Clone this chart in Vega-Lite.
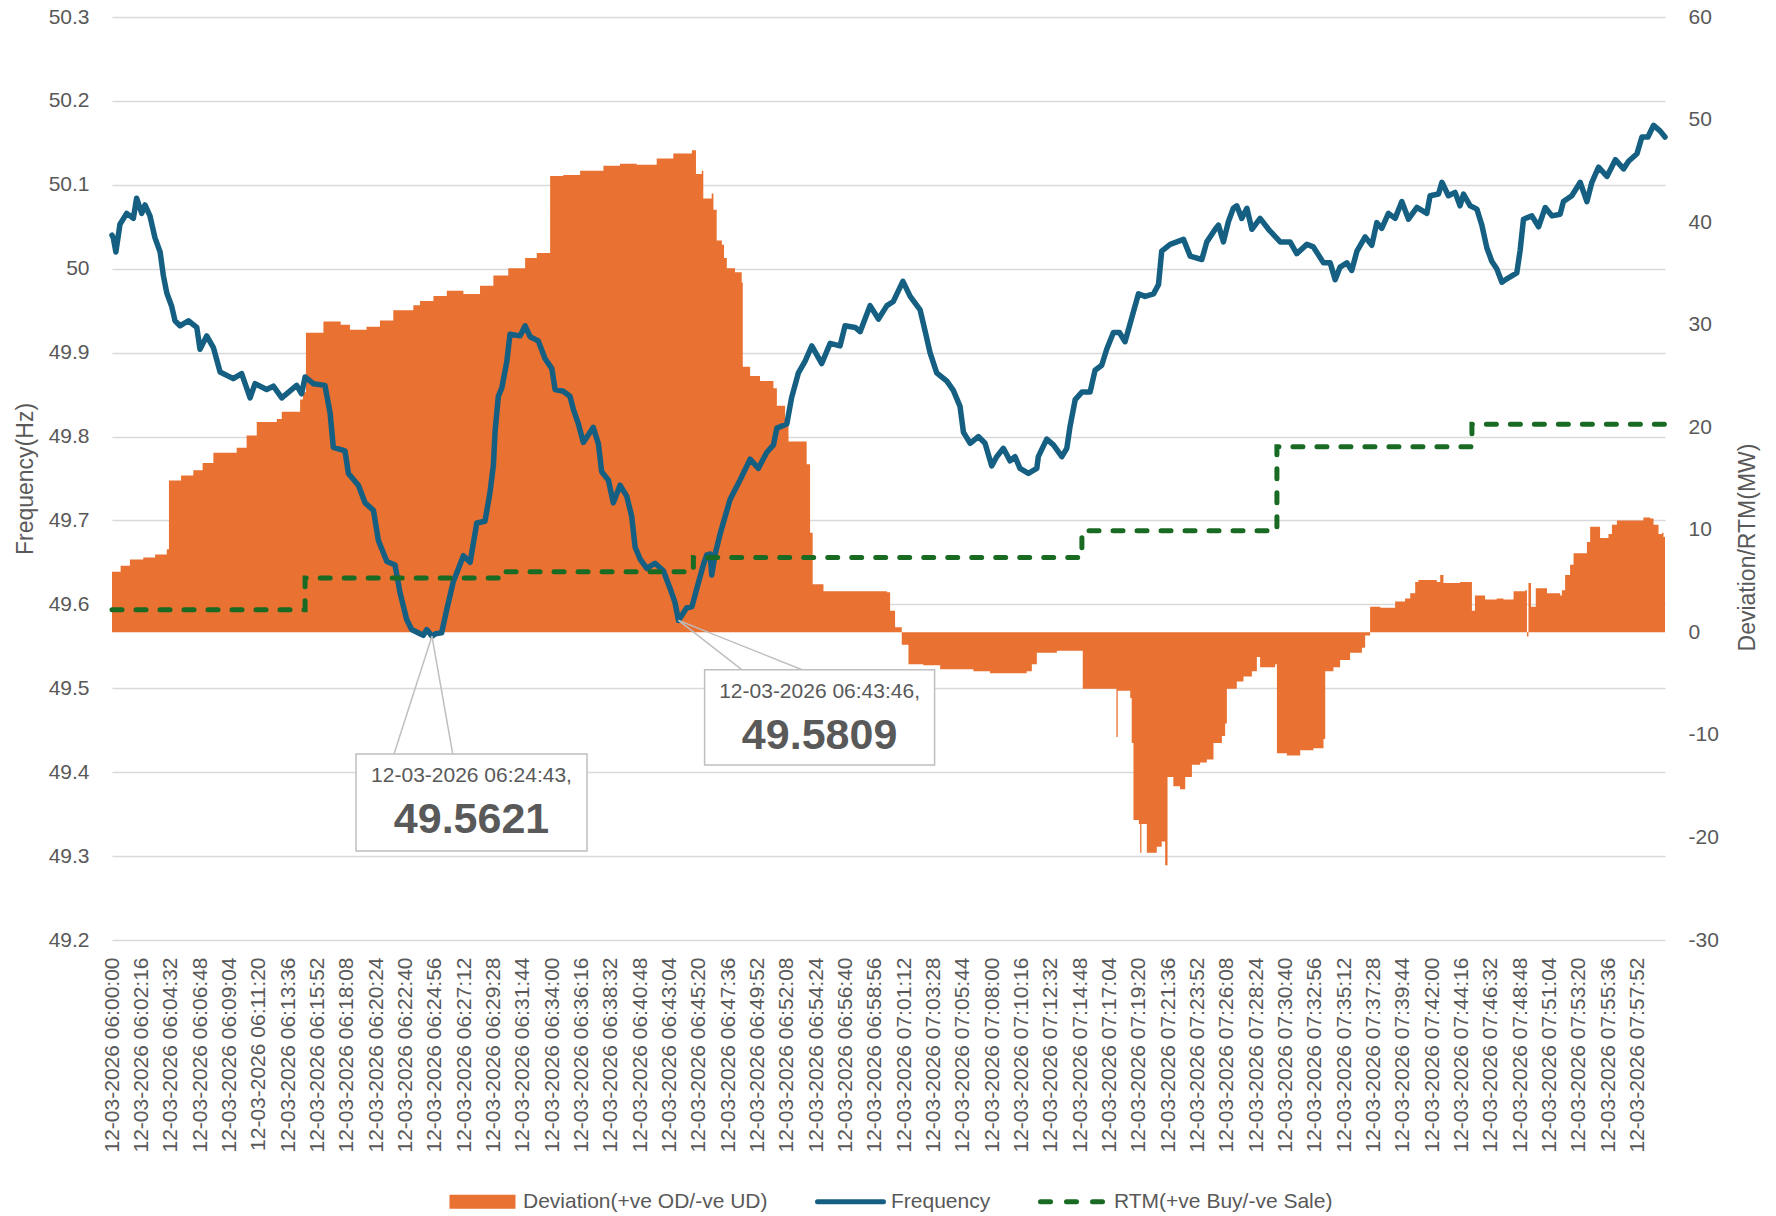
{
"$schema": "https://vega.github.io/schema/vega-lite/v6.json",
"width": 1553, "height": 923,
"autosize": {"type": "none"},
"padding": {"left": 112, "top": 17, "right": 111, "bottom": 276},
"background": "white",
"config": {"font": "Liberation Sans", "view": {"stroke": null}, "text": {"font": "Liberation Sans"}},
"encoding": {
 "x": {"field": "t", "type": "temporal",
  "scale": {"type": "utc", "domain": [1773295200000, 1773302399000]},
  "axis": {"values": [1773295200000,1773295336000,1773295472000,1773295608000,1773295744000,1773295880000,1773296016000,1773296152000,1773296288000,1773296424000,1773296560000,1773296696000,1773296832000,1773296968000,1773297104000,1773297240000,1773297376000,1773297512000,1773297648000,1773297784000,1773297920000,1773298056000,1773298192000,1773298328000,1773298464000,1773298600000,1773298736000,1773298872000,1773299008000,1773299144000,1773299280000,1773299416000,1773299552000,1773299688000,1773299824000,1773299960000,1773300096000,1773300232000,1773300368000,1773300504000,1773300640000,1773300776000,1773300912000,1773301048000,1773301184000,1773301320000,1773301456000,1773301592000,1773301728000,1773301864000,1773302000000,1773302136000,1773302272000],
   "labelExpr": "utcFormat(datum.value, '%d-%m-%Y %H:%M:%S')",
   "labelAngle": -90, "labelFontSize": 21, "labelColor": "#595959", "ticks": false, "tickSize": 0, "labelLimit": 0,
   "domain": false, "grid": false, "labelPadding": 17, "title": null, "labelOverlap": false, "labelFlush": false, "labelBound": false}}
},
"layer": [
 {"data": {"format": {"parse": {"t": "utc:'%Y-%m-%d %H:%M:%S'"}}, "values": [
 {"t":"2026-03-12 06:00:00","d":5.9},{"t":"2026-03-12 06:00:40","d":6.5},{"t":"2026-03-12 06:01:23","d":7.1},{"t":"2026-03-12 06:02:25","d":7.3},{"t":"2026-03-12 06:03:20","d":7.6},{"t":"2026-03-12 06:04:14","d":8.1},{"t":"2026-03-12 06:04:24","d":14.8},{"t":"2026-03-12 06:05:20","d":15.3},{"t":"2026-03-12 06:06:17","d":15.8},{"t":"2026-03-12 06:07:00","d":16.5},{"t":"2026-03-12 06:07:50","d":17.5},{"t":"2026-03-12 06:09:38","d":18.0},{"t":"2026-03-12 06:10:24","d":19.2},{"t":"2026-03-12 06:11:11","d":20.5},{"t":"2026-03-12 06:12:44","d":20.8},{"t":"2026-03-12 06:13:07","d":21.5},{"t":"2026-03-12 06:14:32","d":22.7},{"t":"2026-03-12 06:14:45","d":23.4},{"t":"2026-03-12 06:14:59","d":29.2},{"t":"2026-03-12 06:16:20","d":30.3},{"t":"2026-03-12 06:17:40","d":30.0},{"t":"2026-03-12 06:18:23","d":29.5},{"t":"2026-03-12 06:19:40","d":29.8},{"t":"2026-03-12 06:20:42","d":30.4},{"t":"2026-03-12 06:21:44","d":31.4},{"t":"2026-03-12 06:23:17","d":31.9},{"t":"2026-03-12 06:23:48","d":32.3},{"t":"2026-03-12 06:24:50","d":32.8},{"t":"2026-03-12 06:25:52","d":33.3},{"t":"2026-03-12 06:27:09","d":33.0},{"t":"2026-03-12 06:28:26","d":33.8},{"t":"2026-03-12 06:29:28","d":34.8},{"t":"2026-03-12 06:30:37","d":35.5},{"t":"2026-03-12 06:31:55","d":36.5},{"t":"2026-03-12 06:32:49","d":37.0},{"t":"2026-03-12 06:33:51","d":44.5},{"t":"2026-03-12 06:34:52","d":44.6},{"t":"2026-03-12 06:36:10","d":45.0},{"t":"2026-03-12 06:37:58","d":45.5},{"t":"2026-03-12 06:39:15","d":45.7},{"t":"2026-03-12 06:40:32","d":45.6},{"t":"2026-03-12 06:42:05","d":46.2},{"t":"2026-03-12 06:43:22","d":46.7},{"t":"2026-03-12 06:44:48","d":47.0},{"t":"2026-03-12 06:45:07","d":44.7},{"t":"2026-03-12 06:45:34","d":45.0},{"t":"2026-03-12 06:45:41","d":42.3},{"t":"2026-03-12 06:46:20","d":42.8},{"t":"2026-03-12 06:46:28","d":41.2},{"t":"2026-03-12 06:46:43","d":38.2},{"t":"2026-03-12 06:47:07","d":37.8},{"t":"2026-03-12 06:47:17","d":36.5},{"t":"2026-03-12 06:47:30","d":35.5},{"t":"2026-03-12 06:48:08","d":35.1},{"t":"2026-03-12 06:48:39","d":34.1},{"t":"2026-03-12 06:48:44","d":25.9},{"t":"2026-03-12 06:49:18","d":25.0},{"t":"2026-03-12 06:50:04","d":24.5},{"t":"2026-03-12 06:51:06","d":23.8},{"t":"2026-03-12 06:51:22","d":22.1},{"t":"2026-03-12 06:52:00","d":20.8},{"t":"2026-03-12 06:52:16","d":18.6},{"t":"2026-03-12 06:53:40","d":16.4},{"t":"2026-03-12 06:53:56","d":9.7},{"t":"2026-03-12 06:54:08","d":4.7},{"t":"2026-03-12 06:54:58","d":4.0},{"t":"2026-03-12 06:59:52","d":3.9},{"t":"2026-03-12 07:00:07","d":2.1},{"t":"2026-03-12 07:00:30","d":0.5},{"t":"2026-03-12 07:01:01","d":-1.2},{"t":"2026-03-12 07:01:32","d":-3.1},{"t":"2026-03-12 07:02:41","d":-3.2},{"t":"2026-03-12 07:03:59","d":-3.6},{"t":"2026-03-12 07:06:33","d":-3.8},{"t":"2026-03-12 07:07:50","d":-4.0},{"t":"2026-03-12 07:10:40","d":-3.8},{"t":"2026-03-12 07:11:04","d":-3.1},{"t":"2026-03-12 07:11:27","d":-2.0},{"t":"2026-03-12 07:13:00","d":-1.8},{"t":"2026-03-12 07:15:00","d":-5.5},{"t":"2026-03-12 07:17:36","d":-10.2},{"t":"2026-03-12 07:17:42","d":-5.7},{"t":"2026-03-12 07:18:40","d":-6.4},{"t":"2026-03-12 07:18:47","d":-10.8},{"t":"2026-03-12 07:18:55","d":-18.3},{"t":"2026-03-12 07:19:20","d":-18.7},{"t":"2026-03-12 07:19:26","d":-21.5},{"t":"2026-03-12 07:19:32","d":-18.7},{"t":"2026-03-12 07:19:57","d":-21.5},{"t":"2026-03-12 07:20:43","d":-20.9},{"t":"2026-03-12 07:21:06","d":-20.4},{"t":"2026-03-12 07:21:22","d":-22.7},{"t":"2026-03-12 07:21:33","d":-14.1},{"t":"2026-03-12 07:22:00","d":-15.0},{"t":"2026-03-12 07:22:31","d":-15.3},{"t":"2026-03-12 07:22:55","d":-14.1},{"t":"2026-03-12 07:23:26","d":-12.9},{"t":"2026-03-12 07:24:04","d":-12.7},{"t":"2026-03-12 07:24:35","d":-12.4},{"t":"2026-03-12 07:25:06","d":-10.8},{"t":"2026-03-12 07:25:45","d":-10.1},{"t":"2026-03-12 07:26:00","d":-8.9},{"t":"2026-03-12 07:26:08","d":-5.5},{"t":"2026-03-12 07:26:54","d":-4.8},{"t":"2026-03-12 07:27:25","d":-4.3},{"t":"2026-03-12 07:28:04","d":-3.8},{"t":"2026-03-12 07:28:27","d":-2.4},{"t":"2026-03-12 07:28:42","d":-3.4},{"t":"2026-03-12 07:29:52","d":-3.1},{"t":"2026-03-12 07:30:00","d":-11.8},{"t":"2026-03-12 07:30:46","d":-12.0},{"t":"2026-03-12 07:31:48","d":-11.5},{"t":"2026-03-12 07:32:49","d":-11.3},{"t":"2026-03-12 07:33:36","d":-10.4},{"t":"2026-03-12 07:33:44","d":-3.8},{"t":"2026-03-12 07:34:22","d":-3.4},{"t":"2026-03-12 07:34:53","d":-2.7},{"t":"2026-03-12 07:35:39","d":-2.0},{"t":"2026-03-12 07:36:34","d":-1.5},{"t":"2026-03-12 07:36:49","d":-0.3},{"t":"2026-03-12 07:37:12","d":2.5},{"t":"2026-03-12 07:37:59","d":2.4},{"t":"2026-03-12 07:39:08","d":3.0},{"t":"2026-03-12 07:39:54","d":3.3},{"t":"2026-03-12 07:40:18","d":3.8},{"t":"2026-03-12 07:40:41","d":4.9},{"t":"2026-03-12 07:40:56","d":5.1},{"t":"2026-03-12 07:42:21","d":4.9},{"t":"2026-03-12 07:42:37","d":5.6},{"t":"2026-03-12 07:42:52","d":4.8},{"t":"2026-03-12 07:44:09","d":4.9},{"t":"2026-03-12 07:45:04","d":2.1},{"t":"2026-03-12 07:45:18","d":3.6},{"t":"2026-03-12 07:46:05","d":3.2},{"t":"2026-03-12 07:46:59","d":3.3},{"t":"2026-03-12 07:47:30","d":3.2},{"t":"2026-03-12 07:48:17","d":4.0},{"t":"2026-03-12 07:49:11","d":4.1},{"t":"2026-03-12 07:49:19","d":-0.4},{"t":"2026-03-12 07:49:26","d":4.8},{"t":"2026-03-12 07:49:38","d":2.5},{"t":"2026-03-12 07:50:00","d":4.3},{"t":"2026-03-12 07:50:52","d":3.8},{"t":"2026-03-12 07:51:53","d":3.6},{"t":"2026-03-12 07:52:01","d":4.1},{"t":"2026-03-12 07:52:16","d":5.6},{"t":"2026-03-12 07:52:39","d":6.6},{"t":"2026-03-12 07:52:55","d":7.7},{"t":"2026-03-12 07:53:57","d":8.8},{"t":"2026-03-12 07:54:12","d":10.3},{"t":"2026-03-12 07:54:58","d":9.2},{"t":"2026-03-12 07:55:37","d":9.6},{"t":"2026-03-12 07:55:53","d":10.5},{"t":"2026-03-12 07:56:16","d":10.9},{"t":"2026-03-12 07:58:19","d":11.2},{"t":"2026-03-12 07:58:50","d":11.1},{"t":"2026-03-12 07:59:06","d":10.5},{"t":"2026-03-12 07:59:29","d":9.6},{"t":"2026-03-12 07:59:45","d":9.7},{"t":"2026-03-12 07:59:52","d":9.3},{"t":"2026-03-12 07:59:59","d":9.3}
 ]},
 "mark": {"type": "area", "interpolate": "step-after"},
 "encoding": {
  "y": {"field": "d", "type": "quantitative", "scale": {"domain": [-30, 60], "nice": false, "zero": false},
   "axis": {"orient": "right", "values": [-30,-20,-10,0,10,20,30,40,50,60], "labelExpr": "datum.value < 0 ? '-' + abs(datum.value) : '' + datum.value", "grid": false, "domain": false, "ticks": false, "tickSize": 0, "labelPadding": 23, "labelFontSize": 21, "labelColor": "#595959", "title": "Deviation/RTM(MW)", "titleFontSize": 23, "titleFontWeight": "normal", "titleColor": "#595959", "titleAngle": 270, "titleX": 82, "titleY": 530, "titleAlign": "center", "titleBaseline": "middle"}},
  "y2": {"datum": 0},
  "color": {"datum": "Deviation(+ve OD/-ve UD)",
   "scale": {"domain": ["Deviation(+ve OD/-ve UD)", "Frequency", "RTM(+ve Buy/-ve Sale)"], "range": ["#E97132", "#156082", "#196B24"]},
   "legend": {"orient": "none", "legendX": 360, "legendY": 1174, "direction": "horizontal", "title": null, "padding": 0,
    "labelFontSize": 21, "labelColor": "#595959", "labelOffset": 30, "labelLimit": 0, "columnPadding": 39, "symbolSize": 400, "symbolType": "M-3.3,0L3.3,0",
    "encode": {"symbols": {"update": {
     "shape": {"signal": "datum.value === 'Deviation(+ve OD/-ve UD)' ? 'M-3.3,-0.7L3.3,-0.7L3.3,0.7L-3.3,0.7Z' : 'M-3.3,0L3.3,0'"},
     "fill": {"signal": "datum.value === 'Deviation(+ve OD/-ve UD)' ? '#E97132' : 'transparent'"},
     "stroke": {"signal": "datum.value === 'Frequency' ? '#156082' : (datum.value === 'RTM(+ve Buy/-ve Sale)' ? '#196B24' : 'transparent')"},
     "strokeWidth": {"signal": "datum.value === 'Deviation(+ve OD/-ve UD)' ? 0 : 5"},
     "strokeDash": {"signal": "datum.value === 'RTM(+ve Buy/-ve Sale)' ? [10, 16] : [1, 0]"},
     "strokeCap": {"value": "round"},
     "size": {"value": 400},
     "opacity": {"value": 1}
    }}}}}
 }},
 {"data": {"format": {"parse": {"t": "utc:'%Y-%m-%d %H:%M:%S'"}}, "values": [
 {"t":"2026-03-12 06:00:00","f":50.040},{"t":"2026-03-12 06:00:06","f":50.037},{"t":"2026-03-12 06:00:18","f":50.020},{"t":"2026-03-12 06:00:37","f":50.053},{"t":"2026-03-12 06:01:08","f":50.066},{"t":"2026-03-12 06:01:39","f":50.060},{"t":"2026-03-12 06:01:54","f":50.084},{"t":"2026-03-12 06:02:18","f":50.066},{"t":"2026-03-12 06:02:33","f":50.076},{"t":"2026-03-12 06:02:56","f":50.063},{"t":"2026-03-12 06:03:19","f":50.037},{"t":"2026-03-12 06:03:43","f":50.020},{"t":"2026-03-12 06:03:58","f":49.992},{"t":"2026-03-12 06:04:14","f":49.971},{"t":"2026-03-12 06:04:37","f":49.955},{"t":"2026-03-12 06:04:52","f":49.938},{"t":"2026-03-12 06:05:15","f":49.932},{"t":"2026-03-12 06:05:54","f":49.938},{"t":"2026-03-12 06:06:33","f":49.930},{"t":"2026-03-12 06:06:48","f":49.904},{"t":"2026-03-12 06:07:19","f":49.920},{"t":"2026-03-12 06:07:50","f":49.906},{"t":"2026-03-12 06:08:21","f":49.877},{"t":"2026-03-12 06:09:22","f":49.869},{"t":"2026-03-12 06:10:01","f":49.875},{"t":"2026-03-12 06:10:40","f":49.846},{"t":"2026-03-12 06:11:03","f":49.863},{"t":"2026-03-12 06:11:57","f":49.856},{"t":"2026-03-12 06:12:28","f":49.860},{"t":"2026-03-12 06:13:07","f":49.846},{"t":"2026-03-12 06:14:16","f":49.861},{"t":"2026-03-12 06:14:39","f":49.851},{"t":"2026-03-12 06:14:55","f":49.871},{"t":"2026-03-12 06:15:33","f":49.863},{"t":"2026-03-12 06:16:27","f":49.861},{"t":"2026-03-12 06:16:51","f":49.828},{"t":"2026-03-12 06:17:06","f":49.787},{"t":"2026-03-12 06:18:00","f":49.783},{"t":"2026-03-12 06:18:16","f":49.756},{"t":"2026-03-12 06:19:02","f":49.742},{"t":"2026-03-12 06:19:33","f":49.721},{"t":"2026-03-12 06:20:12","f":49.712},{"t":"2026-03-12 06:20:35","f":49.676},{"t":"2026-03-12 06:21:14","f":49.651},{"t":"2026-03-12 06:21:52","f":49.647},{"t":"2026-03-12 06:22:15","f":49.614},{"t":"2026-03-12 06:22:46","f":49.582},{"t":"2026-03-12 06:23:09","f":49.570},{"t":"2026-03-12 06:23:48","f":49.565},{"t":"2026-03-12 06:24:03","f":49.563},{"t":"2026-03-12 06:24:19","f":49.570},{"t":"2026-03-12 06:24:43","f":49.5621},{"t":"2026-03-12 06:25:00","f":49.565},{"t":"2026-03-12 06:25:28","f":49.566},{"t":"2026-03-12 06:25:52","f":49.594},{"t":"2026-03-12 06:26:22","f":49.627},{"t":"2026-03-12 06:27:09","f":49.658},{"t":"2026-03-12 06:27:40","f":49.650},{"t":"2026-03-12 06:28:11","f":49.697},{"t":"2026-03-12 06:28:49","f":49.699},{"t":"2026-03-12 06:29:12","f":49.733},{"t":"2026-03-12 06:29:28","f":49.766},{"t":"2026-03-12 06:29:36","f":49.807},{"t":"2026-03-12 06:29:51","f":49.848},{"t":"2026-03-12 06:30:07","f":49.858},{"t":"2026-03-12 06:30:30","f":49.889},{"t":"2026-03-12 06:30:45","f":49.922},{"t":"2026-03-12 06:31:32","f":49.920},{"t":"2026-03-12 06:31:55","f":49.932},{"t":"2026-03-12 06:32:18","f":49.919},{"t":"2026-03-12 06:32:56","f":49.914},{"t":"2026-03-12 06:33:27","f":49.893},{"t":"2026-03-12 06:33:59","f":49.881},{"t":"2026-03-12 06:34:14","f":49.856},{"t":"2026-03-12 06:34:52","f":49.854},{"t":"2026-03-12 06:35:23","f":49.848},{"t":"2026-03-12 06:35:39","f":49.832},{"t":"2026-03-12 06:36:02","f":49.815},{"t":"2026-03-12 06:36:25","f":49.793},{"t":"2026-03-12 06:37:11","f":49.811},{"t":"2026-03-12 06:37:35","f":49.791},{"t":"2026-03-12 06:37:50","f":49.758},{"t":"2026-03-12 06:38:21","f":49.748},{"t":"2026-03-12 06:38:44","f":49.721},{"t":"2026-03-12 06:39:15","f":49.742},{"t":"2026-03-12 06:39:46","f":49.729},{"t":"2026-03-12 06:40:09","f":49.705},{"t":"2026-03-12 06:40:25","f":49.668},{"t":"2026-03-12 06:40:48","f":49.654},{"t":"2026-03-12 06:41:19","f":49.643},{"t":"2026-03-12 06:41:57","f":49.649},{"t":"2026-03-12 06:42:36","f":49.640},{"t":"2026-03-12 06:43:07","f":49.619},{"t":"2026-03-12 06:43:30","f":49.602},{"t":"2026-03-12 06:43:46","f":49.5809},{"t":"2026-03-12 06:44:24","f":49.596},{"t":"2026-03-12 06:44:48","f":49.597},{"t":"2026-03-12 06:45:11","f":49.619},{"t":"2026-03-12 06:45:41","f":49.647},{"t":"2026-03-12 06:45:57","f":49.659},{"t":"2026-03-12 06:46:13","f":49.660},{"t":"2026-03-12 06:46:20","f":49.635},{"t":"2026-03-12 06:46:36","f":49.660},{"t":"2026-03-12 06:46:59","f":49.684},{"t":"2026-03-12 06:47:45","f":49.725},{"t":"2026-03-12 06:48:31","f":49.748},{"t":"2026-03-12 06:49:18","f":49.773},{"t":"2026-03-12 06:49:56","f":49.762},{"t":"2026-03-12 06:50:35","f":49.781},{"t":"2026-03-12 06:51:06","f":49.790},{"t":"2026-03-12 06:51:22","f":49.810},{"t":"2026-03-12 06:52:08","f":49.815},{"t":"2026-03-12 06:52:31","f":49.847},{"t":"2026-03-12 06:53:02","f":49.876},{"t":"2026-03-12 06:53:33","f":49.890},{"t":"2026-03-12 06:54:04","f":49.908},{"t":"2026-03-12 06:54:50","f":49.887},{"t":"2026-03-12 06:55:29","f":49.911},{"t":"2026-03-12 06:56:15","f":49.908},{"t":"2026-03-12 06:56:38","f":49.932},{"t":"2026-03-12 06:57:25","f":49.930},{"t":"2026-03-12 06:57:48","f":49.925},{"t":"2026-03-12 06:58:34","f":49.956},{"t":"2026-03-12 06:59:13","f":49.940},{"t":"2026-03-12 06:59:52","f":49.956},{"t":"2026-03-12 07:00:22","f":49.961},{"t":"2026-03-12 07:01:06","f":49.985},{"t":"2026-03-12 07:01:40","f":49.967},{"t":"2026-03-12 07:02:26","f":49.951},{"t":"2026-03-12 07:02:49","f":49.926},{"t":"2026-03-12 07:03:12","f":49.900},{"t":"2026-03-12 07:03:43","f":49.876},{"t":"2026-03-12 07:04:30","f":49.866},{"t":"2026-03-12 07:05:00","f":49.855},{"t":"2026-03-12 07:05:31","f":49.836},{"t":"2026-03-12 07:05:47","f":49.805},{"t":"2026-03-12 07:06:18","f":49.792},{"t":"2026-03-12 07:06:56","f":49.800},{"t":"2026-03-12 07:07:27","f":49.792},{"t":"2026-03-12 07:07:58","f":49.765},{"t":"2026-03-12 07:08:21","f":49.776},{"t":"2026-03-12 07:08:52","f":49.786},{"t":"2026-03-12 07:09:23","f":49.771},{"t":"2026-03-12 07:09:46","f":49.776},{"t":"2026-03-12 07:10:09","f":49.762},{"t":"2026-03-12 07:10:48","f":49.756},{"t":"2026-03-12 07:11:27","f":49.762},{"t":"2026-03-12 07:11:34","f":49.776},{"t":"2026-03-12 07:12:13","f":49.797},{"t":"2026-03-12 07:12:44","f":49.790},{"t":"2026-03-12 07:13:23","f":49.776},{"t":"2026-03-12 07:13:46","f":49.786},{"t":"2026-03-12 07:14:01","f":49.812},{"t":"2026-03-12 07:14:25","f":49.844},{"t":"2026-03-12 07:14:56","f":49.853},{"t":"2026-03-12 07:15:34","f":49.853},{"t":"2026-03-12 07:15:57","f":49.879},{"t":"2026-03-12 07:16:28","f":49.885},{"t":"2026-03-12 07:16:51","f":49.904},{"t":"2026-03-12 07:17:22","f":49.924},{"t":"2026-03-12 07:17:50","f":49.924},{"t":"2026-03-12 07:18:16","f":49.913},{"t":"2026-03-12 07:18:40","f":49.935},{"t":"2026-03-12 07:19:18","f":49.970},{"t":"2026-03-12 07:19:49","f":49.967},{"t":"2026-03-12 07:20:28","f":49.970},{"t":"2026-03-12 07:20:51","f":49.981},{"t":"2026-03-12 07:21:06","f":50.021},{"t":"2026-03-12 07:21:45","f":50.029},{"t":"2026-03-12 07:22:47","f":50.035},{"t":"2026-03-12 07:23:18","f":50.015},{"t":"2026-03-12 07:24:12","f":50.011},{"t":"2026-03-12 07:24:35","f":50.032},{"t":"2026-03-12 07:25:14","f":50.047},{"t":"2026-03-12 07:25:29","f":50.052},{"t":"2026-03-12 07:25:52","f":50.032},{"t":"2026-03-12 07:26:15","f":50.056},{"t":"2026-03-12 07:26:38","f":50.072},{"t":"2026-03-12 07:26:54","f":50.075},{"t":"2026-03-12 07:27:17","f":50.060},{"t":"2026-03-12 07:27:41","f":50.072},{"t":"2026-03-12 07:28:04","f":50.047},{"t":"2026-03-12 07:28:42","f":50.060},{"t":"2026-03-12 07:29:21","f":50.047},{"t":"2026-03-12 07:30:15","f":50.032},{"t":"2026-03-12 07:31:01","f":50.032},{"t":"2026-03-12 07:31:32","f":50.018},{"t":"2026-03-12 07:32:19","f":50.029},{"t":"2026-03-12 07:32:49","f":50.026},{"t":"2026-03-12 07:33:36","f":50.007},{"t":"2026-03-12 07:34:07","f":50.007},{"t":"2026-03-12 07:34:30","f":49.987},{"t":"2026-03-12 07:34:53","f":50.002},{"t":"2026-03-12 07:35:24","f":50.007},{"t":"2026-03-12 07:35:47","f":49.998},{"t":"2026-03-12 07:36:11","f":50.021},{"t":"2026-03-12 07:36:49","f":50.038},{"t":"2026-03-12 07:37:20","f":50.028},{"t":"2026-03-12 07:37:43","f":50.055},{"t":"2026-03-12 07:38:06","f":50.048},{"t":"2026-03-12 07:38:37","f":50.066},{"t":"2026-03-12 07:39:08","f":50.060},{"t":"2026-03-12 07:39:39","f":50.080},{"t":"2026-03-12 07:40:10","f":50.059},{"t":"2026-03-12 07:40:49","f":50.073},{"t":"2026-03-12 07:41:35","f":50.066},{"t":"2026-03-12 07:41:50","f":50.087},{"t":"2026-03-12 07:42:29","f":50.089},{"t":"2026-03-12 07:42:45","f":50.103},{"t":"2026-03-12 07:43:15","f":50.087},{"t":"2026-03-12 07:43:46","f":50.091},{"t":"2026-03-12 07:44:09","f":50.075},{"t":"2026-03-12 07:44:25","f":50.089},{"t":"2026-03-12 07:44:56","f":50.075},{"t":"2026-03-12 07:45:27","f":50.071},{"t":"2026-03-12 07:45:50","f":50.052},{"t":"2026-03-12 07:46:13","f":50.025},{"t":"2026-03-12 07:46:36","f":50.009},{"t":"2026-03-12 07:46:59","f":50.000},{"t":"2026-03-12 07:47:23","f":49.984},{"t":"2026-03-12 07:47:46","f":49.988},{"t":"2026-03-12 07:48:32","f":49.995},{"t":"2026-03-12 07:48:47","f":50.021},{"t":"2026-03-12 07:49:03","f":50.059},{"t":"2026-03-12 07:49:42","f":50.063},{"t":"2026-03-12 07:50:13","f":50.050},{"t":"2026-03-12 07:50:44","f":50.073},{"t":"2026-03-12 07:51:15","f":50.063},{"t":"2026-03-12 07:51:53","f":50.065},{"t":"2026-03-12 07:52:08","f":50.080},{"t":"2026-03-12 07:52:47","f":50.087},{"t":"2026-03-12 07:53:26","f":50.103},{"t":"2026-03-12 07:53:57","f":50.080},{"t":"2026-03-12 07:54:20","f":50.103},{"t":"2026-03-12 07:54:51","f":50.121},{"t":"2026-03-12 07:55:30","f":50.110},{"t":"2026-03-12 07:56:09","f":50.130},{"t":"2026-03-12 07:56:47","f":50.119},{"t":"2026-03-12 07:57:10","f":50.128},{"t":"2026-03-12 07:57:49","f":50.137},{"t":"2026-03-12 07:58:12","f":50.157},{"t":"2026-03-12 07:58:40","f":50.157},{"t":"2026-03-12 07:59:06","f":50.171},{"t":"2026-03-12 07:59:37","f":50.164},{"t":"2026-03-12 07:59:59","f":50.157}
 ]},
 "mark": {"type": "line", "strokeWidth": 5.5, "strokeJoin": "round", "strokeCap": "round"},
 "encoding": {
  "y": {"field": "f", "type": "quantitative", "scale": {"domain": [49.2, 50.3], "nice": false, "zero": false},
   "axis": {"orient": "left", "values": [49.2,49.3,49.4,49.5,49.6,49.7,49.8,49.9,50,50.1,50.2,50.3], "format": "~g", "grid": true, "gridColor": "#D9D9D9", "gridWidth": 1.5, "domain": false, "ticks": false, "tickSize": 0, "labelPadding": 23, "labelFontSize": 21, "labelColor": "#595959", "title": "Frequency(Hz)", "titleFontSize": 23, "titleFontWeight": "normal", "titleColor": "#595959", "titleX": -87, "titleAlign": "center", "titleBaseline": "middle"}},
  "color": {"datum": "Frequency", "scale": {"domain": ["Deviation(+ve OD/-ve UD)", "Frequency", "RTM(+ve Buy/-ve Sale)"], "range": ["#E97132", "#156082", "#196B24"]}}
 }},
 {"data": {"format": {"parse": {"t": "utc:'%Y-%m-%d %H:%M:%S'"}}, "values": [
 {"t":"2026-03-12 06:00:00","r":2.2},{"t":"2026-03-12 06:14:55","r":5.3},{"t":"2026-03-12 06:30:07","r":5.9},{"t":"2026-03-12 06:44:55","r":7.3},{"t":"2026-03-12 07:14:56","r":9.9},{"t":"2026-03-12 07:30:00","r":18.1},{"t":"2026-03-12 07:45:04","r":20.3},{"t":"2026-03-12 07:59:59","r":20.3}
 ]},
 "mark": {"type": "line", "interpolate": "step-after", "strokeWidth": 5, "strokeDash": [10, 14], "strokeCap": "round"},
 "encoding": {
  "y": {"field": "r", "type": "quantitative", "scale": {"domain": [-30, 60], "nice": false, "zero": false}, "axis": null},
  "color": {"datum": "RTM(+ve Buy/-ve Sale)", "scale": {"domain": ["Deviation(+ve OD/-ve UD)", "Frequency", "RTM(+ve Buy/-ve Sale)"], "range": ["#E97132", "#156082", "#196B24"]}}
 }},
 {"data": {"format": {"parse": {"t": "utc:'%Y-%m-%d %H:%M:%S'"}}, "values": [
  {"t":"2026-03-12 06:24:43","f":49.5621,"ts":"12-03-2026 06:24:43,","v":"49.5621"}]},
  "encoding": {"y": {"field": "f", "type": "quantitative", "scale": {"domain": [49.2, 50.3], "nice": false, "zero": false}, "axis": null}},
  "layer": [
   {"mark": {"type": "rule", "color": "#BFBFBF", "strokeWidth": 1.5, "x2Offset": -37.9, "y2Offset": 117.8}, "encoding": {"x2": {"field": "t"}, "y2": {"field": "f"}}},
   {"mark": {"type": "rule", "color": "#BFBFBF", "strokeWidth": 1.5, "x2Offset": 20.8, "y2Offset": 117.8}, "encoding": {"x2": {"field": "t"}, "y2": {"field": "f"}}},
   {"mark": {"type": "rect", "fill": "white", "stroke": "#BFBFBF", "strokeWidth": 1.5, "xOffset": -75.9, "x2Offset": 155.1, "yOffset": 117.8, "y2Offset": 214.9}, "encoding": {"x2": {"field": "t"}, "y2": {"field": "f"}}},
   {"mark": {"type": "text", "dx": 39.6, "dy": 145.6, "align": "center", "baseline": "alphabetic", "fontSize": 21, "color": "#595959"}, "encoding": {"text": {"field": "ts"}}},
   {"mark": {"type": "text", "dx": 39.6, "dy": 197, "align": "center", "baseline": "alphabetic", "fontSize": 43, "fontWeight": "bold", "color": "#595959"}, "encoding": {"text": {"field": "v"}}}
  ]},
 {"data": {"format": {"parse": {"t": "utc:'%Y-%m-%d %H:%M:%S'"}}, "values": [
  {"t":"2026-03-12 06:43:46","f":49.5809,"ts":"12-03-2026 06:43:46,","v":"49.5809"}]},
  "encoding": {"y": {"field": "f", "type": "quantitative", "scale": {"domain": [49.2, 50.3], "nice": false, "zero": false}, "axis": null}},
  "layer": [
   {"mark": {"type": "rule", "color": "#BFBFBF", "strokeWidth": 1.5, "x2Offset": 63.6, "y2Offset": 49.4}, "encoding": {"x2": {"field": "t"}, "y2": {"field": "f"}}},
   {"mark": {"type": "rule", "color": "#BFBFBF", "strokeWidth": 1.5, "x2Offset": 123.6, "y2Offset": 49.4}, "encoding": {"x2": {"field": "t"}, "y2": {"field": "f"}}},
   {"mark": {"type": "rect", "fill": "white", "stroke": "#BFBFBF", "strokeWidth": 1.5, "xOffset": 26.1, "x2Offset": 256.1, "yOffset": 49.4, "y2Offset": 144.6}, "encoding": {"x2": {"field": "t"}, "y2": {"field": "f"}}},
   {"mark": {"type": "text", "dx": 141.1, "dy": 77.2, "align": "center", "baseline": "alphabetic", "fontSize": 21, "color": "#595959"}, "encoding": {"text": {"field": "ts"}}},
   {"mark": {"type": "text", "dx": 141.1, "dy": 128.5, "align": "center", "baseline": "alphabetic", "fontSize": 43, "fontWeight": "bold", "color": "#595959"}, "encoding": {"text": {"field": "v"}}}
  ]}
],
"resolve": {"scale": {"y": "independent"}}
}
